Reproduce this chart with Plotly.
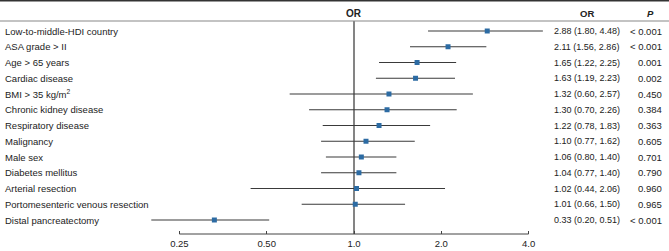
import math
import plotly.graph_objects as go

labels = ["Low-to-middle-HDI country", "ASA grade > II", "Age > 65 years", "Cardiac disease",
          "BMI > 35 kg/m<sup>2</sup>", "Chronic kidney disease", "Respiratory disease", "Malignancy",
          "Male sex", "Diabetes mellitus", "Arterial resection", "Portomesenteric venous resection",
          "Distal pancreatectomy"]
or_vals = [2.88, 2.11, 1.65, 1.63, 1.32, 1.30, 1.22, 1.10, 1.06, 1.04, 1.02, 1.01, 0.33]
ci_low = [1.80, 1.56, 1.22, 1.19, 0.60, 0.70, 0.78, 0.77, 0.80, 0.77, 0.44, 0.66, 0.20]
ci_high = [4.48, 2.86, 2.25, 2.23, 2.57, 2.26, 1.83, 1.62, 1.40, 1.40, 2.06, 1.50, 0.51]
p_vals = ["< 0.001", "< 0.001", "0.001", "0.002", "0.450", "0.384", "0.363", "0.605",
          "0.701", "0.790", "0.960", "0.965", "< 0.001"]
tick_vals = [0.25, 0.5, 1.0, 2.0, 4.0]
tick_text = ["0.25", "0.50", "1.0", "2.0", "4.0"]
ref_value = 1.0

W, H = 669, 251
FONT = "Liberation Sans, Arial, Helvetica, sans-serif"
TXT = "#222222"
FS = 9.5
rows = list(range(len(labels)))

fig = go.Figure()
for i in rows:
    fig.add_trace(go.Scatter(x=[ci_low[i], ci_high[i]], y=[i, i], mode="lines",
                             line=dict(color="#3a3a3a", width=1.1), hoverinfo="skip",
                             showlegend=False))
fig.add_trace(go.Scatter(x=or_vals, y=rows, mode="markers",
                         marker=dict(symbol="square", size=5, color="#2c6ba3"),
                         showlegend=False))

axis_px = 234
bot_dom = (H - axis_px) / H
row0_px, step = 31, 15.75
y_top = -row0_px / step
y_bot = (axis_px - row0_px) / step

x_scale = 87.3
x0_log = math.log10(2 ** (-354 / x_scale))
x1_log = math.log10(2 ** ((W - 354) / x_scale))

fig.update_layout(
    width=W, height=H, margin=dict(l=0, r=0, t=0, b=0),
    paper_bgcolor="white", plot_bgcolor="white",
    font=dict(family=FONT, size=FS, color=TXT),
    xaxis=dict(type="log", range=[x0_log, x1_log], domain=[0, 1], showgrid=False,
               zeroline=False, showline=False, ticks="inside", ticklen=3, tickwidth=1,
               tickcolor="#444", tickvals=tick_vals, ticktext=tick_text,
               ticklabelstandoff=2, tickfont=dict(size=FS, color=TXT)),
    yaxis=dict(range=[y_bot, y_top], domain=[bot_dom, 1], visible=False),
)

fig.add_shape(type="line", xref="x", yref="paper", x0=tick_vals[0], x1=tick_vals[-1],
              y0=bot_dom, y1=bot_dom, line=dict(color="#444", width=1))
fig.add_shape(type="line", xref="x", yref="paper", x0=ref_value, x1=ref_value,
              y0=bot_dom, y1=1 - 21 / H, line=dict(color="#777", width=1.8), layer="below")
fig.add_shape(type="line", xref="paper", yref="paper", x0=0, x1=1, y0=1 - 0.8 / H, y1=1 - 0.8 / H,
              line=dict(color="#333", width=1.5))
fig.add_shape(type="line", xref="paper", yref="paper", x0=0, x1=1, y0=1 - 21 / H, y1=1 - 21 / H,
              line=dict(color="#888", width=1.2))

hy = 1 - 14 / H
fig.add_annotation(x=math.log10(ref_value), xref="x", y=hy, yref="paper", text="<b>OR</b>",
                   showarrow=False, xanchor="center", yanchor="middle",
                   font=dict(size=10, color=TXT))
fig.add_annotation(x=587 / W, xref="paper", y=hy, yref="paper", text="<b>OR</b>", showarrow=False,
                   xanchor="center", yanchor="middle", font=dict(size=FS, color=TXT))
fig.add_annotation(x=650 / W, xref="paper", y=hy, yref="paper", text="<b><i>P</i></b>",
                   showarrow=False, xanchor="center", yanchor="middle",
                   font=dict(size=FS, color=TXT))

for i in rows:
    fig.add_annotation(x=3 / W, xref="paper", y=i, yref="y", text=labels[i], showarrow=False,
                       xanchor="left", yanchor="middle", font=dict(size=FS, color=TXT))
    fig.add_annotation(x=552 / W, xref="paper", y=i, yref="y",
                       text=f"{or_vals[i]:.2f} ({ci_low[i]:.2f}, {ci_high[i]:.2f})",
                       showarrow=False, xanchor="left", yanchor="middle",
                       font=dict(size=9, color=TXT))
    fig.add_annotation(x=664 / W, xref="paper", y=i, yref="y", text=p_vals[i], showarrow=False,
                       xanchor="right", yanchor="middle", font=dict(size=FS, color=TXT))

fig.write_html("out.html", config={"displayModeBar": False},
               post_script="document.body.style.margin='0';document.body.style.padding='0';")
